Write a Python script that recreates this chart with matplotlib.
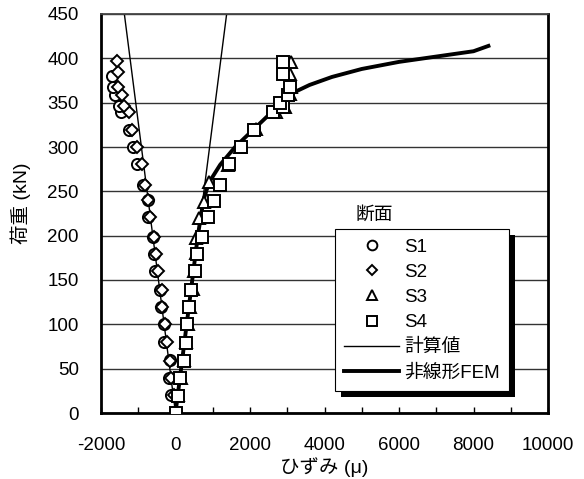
import matplotlib
matplotlib.use('Agg')
import matplotlib.pyplot as plt
from matplotlib.lines import Line2D
from matplotlib.patches import Rectangle
from matplotlib.transforms import IdentityTransform
import numpy as np

plt.rcParams['font.family'] = ['Liberation Sans', 'Noto Sans CJK JP']
plt.rcParams['axes.unicode_minus'] = False

# ================= DATA =================
load_s1 = [0, 20, 40, 60, 80, 100, 120, 139, 160, 179, 199, 221, 240, 257, 281, 300, 319, 340, 346, 359, 368, 380]
strain_s1 = [0, -120, -180, -135, -300, -315, -387, -405, -541, -586, -604, -748, -748, -874, -1036, -1144,
             -1235, -1460, -1505, -1622, -1667, -1712]

load_s2 = [0, 20, 40, 59, 80, 100, 120, 139, 160, 179, 199, 221, 240, 257, 281, 300, 319, 340, 346, 359, 368, 385, 397]
strain_s2 = [0, -45, -110, -135, -225, -270, -360, -360, -468, -514, -586, -694, -748, -811, -901, -1036,
             -1171, -1261, -1378, -1441, -1532, -1532, -1576]

load_s3 = [0, 20, 40, 60, 80, 100, 120, 140, 160, 180, 197, 220, 238, 260, 280, 300, 320, 340, 345, 360, 368, 382, 396]
strain_s3 = [0, 80, 140, 230, 290, 340, 390, 480, 500, 560, 541, 631, 766, 910, 1420, 1740, 2160, 2700,
             2950, 3080, 3100, 3080, 3100]

load_s4 = [0, 19, 40, 59, 79, 100, 120, 139, 160, 179, 199, 221, 239, 257, 281, 300, 319, 340, 345, 350, 359, 368, 382, 396]
strain_s4 = [0, 63, 108, 225, 270, 315, 360, 423, 523, 568, 721, 874, 1036, 1189, 1441, 1757, 2099, 2613,
             2883, 2793, 3018, 3063, 2883, 2883]

# 計算値 (straight lines)
calc_load = [0, 470]
calc_left = [0, -1434]
calc_right = [0, 1434]

# 非線形FEM
fem_strain = [0, 150, 300, 450, 600, 750, 900, 1200, 1600, 2100, 2600, 2900, 3100, 3600, 4200, 5000,
              6000, 7000, 8000, 8400]
fem_load = [0, 50, 100, 150, 200, 240, 260, 280, 300, 320, 340, 352, 360, 370, 379, 388, 396, 402, 408, 414]

# ================= PLOT =================
fig = plt.figure(figsize=(5.84, 4.79), dpi=100)
ax = fig.add_axes([101 / 584, 1 - 413 / 479, 447 / 584, 399 / 479])

ax.plot(calc_left, calc_load, color='black', lw=1.0, zorder=2)
ax.plot(calc_right, calc_load, color='black', lw=1.0, zorder=2)
ax.plot(fem_strain, fem_load, color='black', lw=2.8, zorder=2)

mk = dict(linestyle='none', mfc='white', mec='black', mew=1.4, zorder=3)
ax.plot(strain_s1, load_s1, marker='o', ms=8, **mk)
ax.plot(strain_s2, load_s2, marker='D', ms=6.5, **mk)
ax.plot(strain_s3, load_s3, marker='^', ms=8, **mk)
ax.plot(strain_s4, load_s4, marker='s', ms=8, **mk)

# ================= AXIS =================
ax.set_xlim(-2000, 10000)
ax.set_ylim(0, 450)
ax.set_xticks(np.arange(-2000, 10001, 2000))
ax.set_xticks(np.arange(-2000, 10001, 1000), minor=True)
ax.set_yticks(np.arange(0, 451, 50))
ax.tick_params(axis='x', which='both', direction='in', length=4, width=1, labelsize=13.5, pad=17)
ax.tick_params(axis='y', which='both', direction='in', length=0, labelsize=13.5, pad=16)
ax.grid(axis='y', color='#333333', lw=1.0)
ax.set_axisbelow(True)

for s in ['left', 'bottom', 'right']:
    ax.spines[s].set_linewidth(2)
ax.spines['top'].set_linewidth(1.3)
ax.spines['top'].set_color('#444444')

ax.set_xlabel('ひずみ (μ)', fontsize=14)
ax.set_ylabel('荷重 (kN)', fontsize=14)
ax.xaxis.set_label_coords(0.5, (413 - 457) / 399)
ax.yaxis.set_label_coords((31 - 101) / 447, (413 - 203) / 399)

# ================= LEGEND =================
handles = [
    Line2D([], [], marker='o', ms=7, **mk),
    Line2D([], [], marker='D', ms=5.5, **mk),
    Line2D([], [], marker='^', ms=7, **mk),
    Line2D([], [], marker='s', ms=7, **mk),
    Line2D([], [], color='black', lw=1.0),
    Line2D([], [], color='black', lw=2.8),
]
labels = ['S1', 'S2', 'S3', 'S4', '計算値', '非線形FEM']
leg = ax.legend(handles, labels, loc='upper left', bbox_to_anchor=((335 - 101) / 447, (413 - 229) / 399),
                borderaxespad=0, fontsize=13.5, frameon=True, fancybox=False, framealpha=1,
                edgecolor='black', handlelength=2.9, handletextpad=0.3, labelspacing=0.43,
                borderpad=0.5, numpoints=1)
leg.get_frame().set_linewidth(0.8)
leg.set_zorder(6)
ax.text((374 - 101) / 447, (413 - 215) / 399, '断面', transform=ax.transAxes,
        ha='center', va='center', fontsize=13.5)

# black drop shadow
fig.canvas.draw()
bb = leg.get_window_extent()
shadow = Rectangle((bb.x0 + 6, bb.y0 - 6), bb.width, bb.height, transform=IdentityTransform(),
                   facecolor='black', edgecolor='none', clip_on=False, zorder=5.5)
ax.add_artist(shadow)

fig.savefig('out.png', dpi=100)
